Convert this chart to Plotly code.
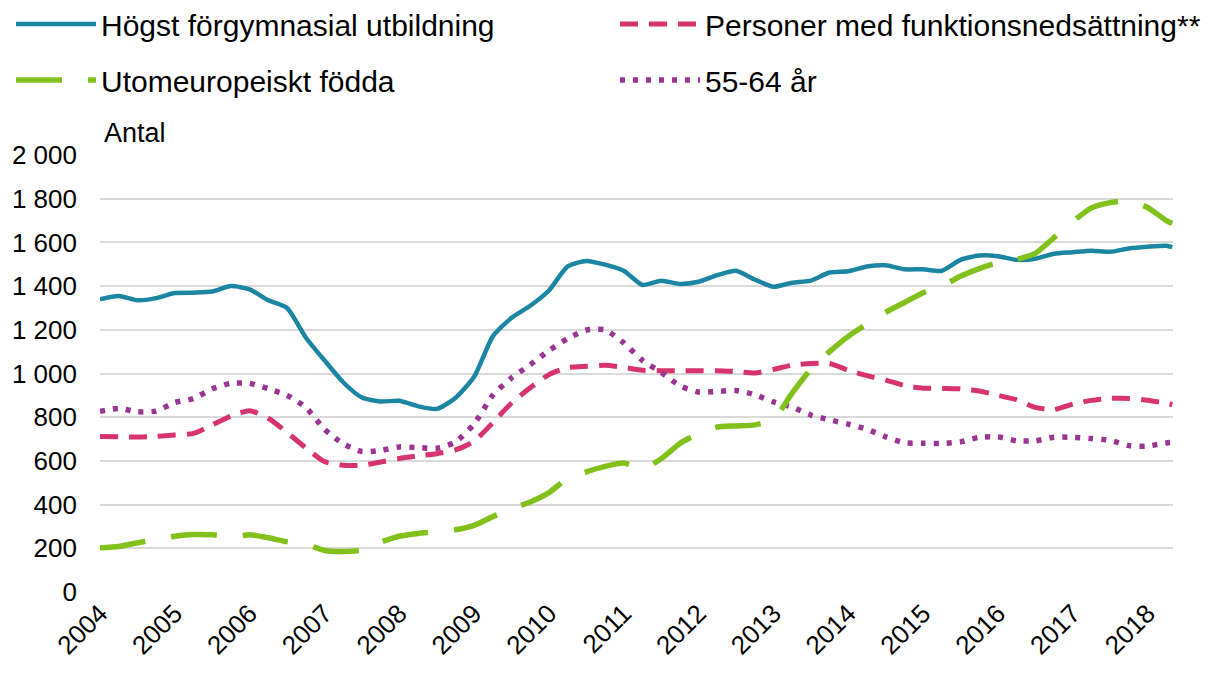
import plotly.graph_objects as go

# Period axis: quarterly from 2004 to spring 2018
periods = [2004 + i * 0.25 for i in range(58)] + [2018.33]

year_ticks = list(range(2004, 2019))
year_labels = [str(y) for y in year_ticks]

y_ticks = [0, 200, 400, 600, 800, 1000, 1200, 1400, 1600, 1800, 2000]
y_labels = ["0", "200", "400", "600", "800", "1 000", "1 200", "1 400", "1 600", "1 800", "2 000"]

hogst_forgymnasial = [
    1340, 1355, 1335, 1345,
    1368, 1370, 1375, 1400,
    1385, 1335, 1300, 1165,
    1060, 960, 890, 872,
    875, 850, 838, 888,
    985, 1170, 1255, 1310,
    1380, 1490, 1515, 1498,
    1470, 1405, 1425, 1410,
    1420, 1450, 1470, 1430,
    1397, 1415, 1425, 1462,
    1468, 1490, 1495, 1477,
    1477, 1470, 1520, 1540,
    1537, 1520, 1525, 1548,
    1555, 1562, 1557, 1572,
    1580, 1585, 1578,
]

funktionsnedsattning = [
    712, 710, 709, 712,
    719, 726, 765, 805,
    830, 795, 730, 660,
    597, 580, 580, 595,
    611, 623, 633, 650,
    690, 775, 865, 935,
    995, 1027, 1033, 1038,
    1028, 1015, 1013, 1013,
    1013, 1013, 1009, 1002,
    1019, 1038, 1046, 1046,
    1015, 990, 970, 945,
    933, 932, 930, 920,
    900, 880, 845, 835,
    860, 877, 886, 886,
    878, 864, 857,
]

aldre_55_64 = [
    827, 840, 825, 828,
    867, 885, 930, 955,
    955, 930, 900, 845,
    745, 678, 643, 648,
    664, 661, 658, 686,
    770, 900, 980, 1040,
    1105, 1160, 1199, 1200,
    1140, 1060, 1005, 944,
    915, 918, 922, 903,
    870, 846, 810, 788,
    768, 745, 710, 683,
    681, 680, 687, 708,
    710, 692, 692, 708,
    708, 702, 694, 670,
    668, 682, 685,
]

utomeuropeiskt = [
    202, 208, 225, 242,
    255, 263, 262, 252,
    262, 248, 230, 218,
    190, 185, 192, 228,
    255, 268, 275, 285,
    305, 345, 380, 412,
    455, 520, 550, 575,
    590, 565, 610, 680,
    725, 755, 760, 765,
    790, 910, 1020, 1100,
    1170, 1227, 1280, 1325,
    1370, 1400, 1445, 1480,
    1507, 1522, 1550, 1622,
    1695, 1758, 1782, 1790,
    1760, 1700, 1687,
]

FONT = "Liberation Sans, Arial, sans-serif"

fig = go.Figure()
fig.add_trace(go.Scatter(
    x=periods, y=hogst_forgymnasial, mode="lines",
    name="Högst förgymnasial utbildning",
    line=dict(color="#1c86a2", width=4.5, shape="spline", smoothing=0.6),
    legend="legend",
))
fig.add_trace(go.Scatter(
    x=periods, y=funktionsnedsattning, mode="lines",
    name="Personer med funktionsnedsättning**",
    line=dict(color="#d6336f", width=5, dash="18px,11px", shape="spline", smoothing=0.6),
    legend="legend2",
))
fig.add_trace(go.Scatter(
    x=periods, y=aldre_55_64, mode="lines",
    name="55-64 år",
    line=dict(color="#9b3594", width=5.5, dash="5px,8px", shape="spline", smoothing=0.6),
    legend="legend4",
))
fig.add_trace(go.Scatter(
    x=periods, y=utomeuropeiskt, mode="lines",
    name="Utomeuropeiskt födda",
    line=dict(color="#82c11c", width=5.5, dash="46px,26px", shape="spline", smoothing=0.6),
    legend="legend3",
))

def leg(x, y):
    return dict(
        x=x, y=y, xref="container", yref="container",
        xanchor="left", yanchor="middle", orientation="h",
        font=dict(family=FONT, size=30, color="#000000"),
        bgcolor="rgba(0,0,0,0)", itemwidth=80,
    )

row1 = 1 - 16 / 675
row2 = 1 - 72 / 675
col1 = 3 / 1219
col2 = 607 / 1219

fig.update_layout(
    width=1219, height=675,
    margin=dict(l=92, r=54, t=147, b=91, autoexpand=False),
    paper_bgcolor="white", plot_bgcolor="white",
    font=dict(family=FONT, size=26, color="#000000"),
    showlegend=True,
    legend=leg(col1, row1),
    legend2=leg(col2, row1),
    legend3=leg(col1, row2),
    legend4=leg(col2, row2),
    xaxis=dict(
        range=[2004, 2018.34],
        tickmode="array", tickvals=year_ticks, ticktext=year_labels,
        tickangle=-45, showgrid=False, zeroline=False, showline=False,
        ticks="", tickfont=dict(family=FONT, size=26, color="#000000"),
    ),
    yaxis=dict(
        range=[0, 2000],
        tickmode="array", tickvals=y_ticks, ticktext=y_labels,
        showgrid=True, gridcolor="#d9d9d9", gridwidth=2,
        zeroline=False, showline=False, ticks="",
        ticklabelstandoff=22,
        tickfont=dict(family=FONT, size=26, color="#000000"),
    ),
    annotations=[dict(
        text="Antal", xref="paper", yref="paper", x=0.002, y=1.05,
        xanchor="left", yanchor="middle", showarrow=False,
        font=dict(family=FONT, size=27, color="#000000"),
    )],
)

fig.write_html("out.html")
